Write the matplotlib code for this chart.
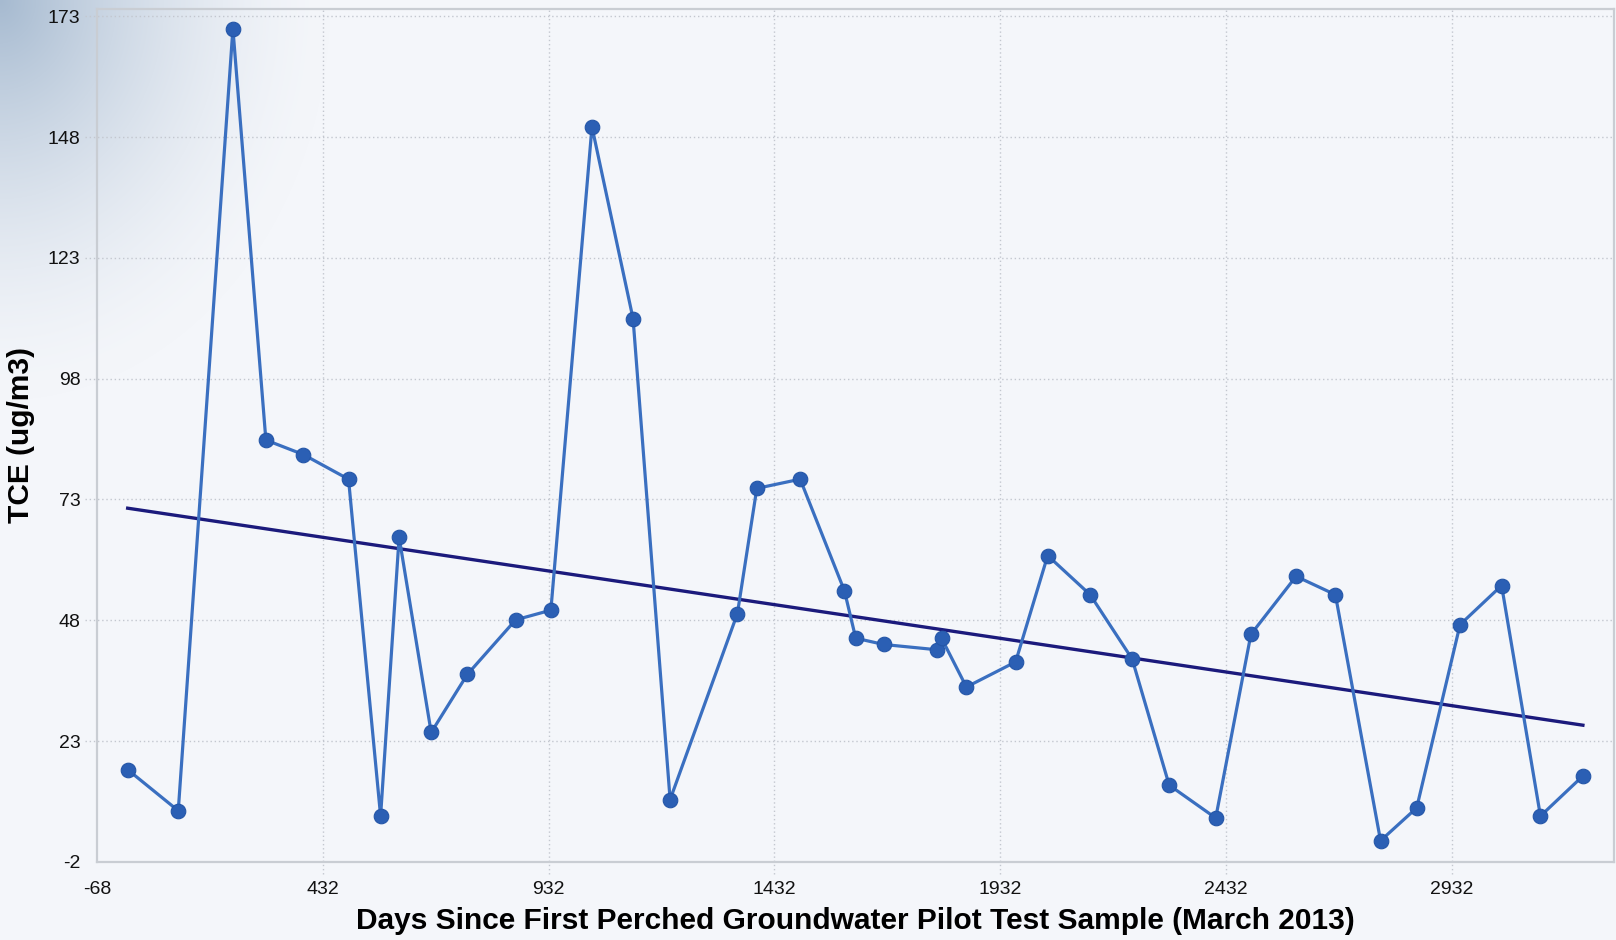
import matplotlib

matplotlib.use("Agg")
import matplotlib.pyplot as plt
import numpy as np

plt.rcParams["axes.unicode_minus"] = False

# days since first sample, TCE concentration (ug/m3)
days = [0, 112, 233, 306, 389, 489, 560, 601, 672, 752, 859, 937,
        1028, 1119, 1201, 1350, 1393, 1489, 1587, 1612, 1674, 1793,
        1802, 1857, 1966, 2037, 2131, 2224, 2306, 2409, 2487, 2587,
        2674, 2774, 2854, 2950, 3042, 3128, 3222]
tce = [17.1, 8.6, 170.4, 85.3, 82.3, 77.2, 7.5, 65.2, 24.8, 36.8, 48.1, 50.1,
       150.1, 110.4, 10.9, 49.4, 75.3, 77.2, 54.1, 44.3, 43.0, 41.9,
       44.3, 34.2, 39.4, 61.4, 53.3, 40.0, 13.9, 7.1, 45.1, 57.1,
       53.3, 2.4, 9.2, 47.1, 55.2, 7.5, 15.8]

trend_days = [0, 3222]
trend_tce = [71.2, 26.3]

x_ticks = [-68, 432, 932, 1432, 1932, 2432, 2932]
y_ticks = [-2, 23, 48, 73, 98, 123, 148, 173]

BG = "#f4f6fa"
GRID = "#c3c7cf"

fig = plt.figure(figsize=(16.16, 9.4), dpi=100, facecolor=BG)

# soft bluish glow in the top-left corner
bg = fig.add_axes([0, 0, 1, 1], zorder=-10)
h, w = 470, 808
yy, xx = np.mgrid[0:h, 0:w]
d = np.sqrt((xx / 330.0) ** 2 + (yy / 400.0) ** 2)
a = np.clip(1 - d, 0, 1) ** 1.6
c0 = np.array([0xf4, 0xf6, 0xfa]) / 255.0
c1 = np.array([0xa6, 0xba, 0xd0]) / 255.0
img = c0[None, None, :] * (1 - a[..., None]) + c1[None, None, :] * a[..., None]
bg.imshow(img, extent=(0, 0.5, 0.5, 1.0), aspect="auto", origin="upper")
bg.set_xlim(0, 1)
bg.set_ylim(0, 1)
bg.axis("off")

ax = fig.add_axes([0.060, 0.083, 0.9388, 0.9075])
ax.set_facecolor("none")
ax.set_xlim(-68, 3291)
ax.set_ylim(-2, 174.5)

# dotted grid that pokes out past the frame like tick marks
ext_x = 12 / 1517
ext_y = 12 / 853
for yv in y_ticks[1:]:
    ax.plot([-ext_x, 1], [yv, yv], transform=ax.get_yaxis_transform(),
            color=GRID, lw=1, ls=(0, (1, 2)), clip_on=False, zorder=0)
for xv in x_ticks[1:]:
    ax.plot([xv, xv], [-ext_y, 1], transform=ax.get_xaxis_transform(),
            color=GRID, lw=1, ls=(0, (1, 2)), clip_on=False, zorder=0)

ax.plot(trend_days, trend_tce, color="#1b1a7c", lw=2.4, zorder=2)
ax.plot(days, tce, color="#3a6fc0", lw=2.3, marker="o", markersize=10.5,
        markerfacecolor="#2b5fb4", markeredgecolor="#2456a8",
        markeredgewidth=0.8, zorder=3)

ax.set_xticks(x_ticks)
ax.set_yticks(y_ticks)
ax.tick_params(length=0, labelsize=14, colors="#111111")
ax.tick_params(axis="x", pad=14)
ax.tick_params(axis="y", pad=12)
for lab in ax.get_xticklabels() + ax.get_yticklabels():
    lab.set_fontfamily("Liberation Sans")

for side in ["left", "bottom", "top", "right"]:
    ax.spines[side].set_color("#c9cdd3")
    ax.spines[side].set_linewidth(1.6)

ax.set_xlabel("Days Since First Perched Groundwater Pilot Test Sample (March 2013)",
              fontsize=21.5, fontweight="bold", fontfamily="Liberation Sans",
              labelpad=6)
ax.set_ylabel("TCE (ug/m3)", fontsize=21.5, fontweight="bold",
              fontfamily="Liberation Sans")
ax.yaxis.set_label_coords(-0.041, 0.5)

fig.savefig("out.png", dpi=100, facecolor=BG)
